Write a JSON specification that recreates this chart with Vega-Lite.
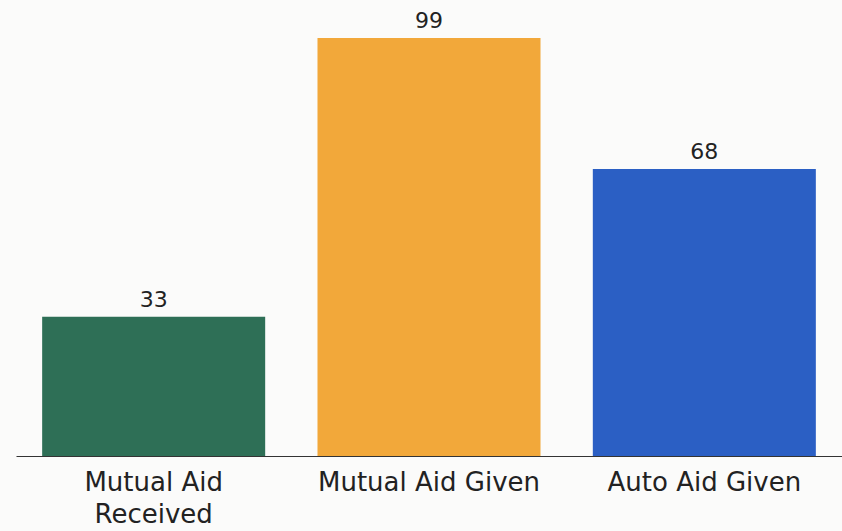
{
  "$schema": "https://vega.github.io/schema/vega-lite/v6.json",
  "width": 826,
  "height": 456,
  "autosize": {"type": "none"},
  "padding": {"left": 16, "top": 0, "right": 0, "bottom": 75},
  "background": "#fbfbfa",
  "data": {"values": [
    {"category": "Mutual Aid Received", "value": 33},
    {"category": "Mutual Aid Given", "value": 99},
    {"category": "Auto Aid Given", "value": 68}
  ]},
  "encoding": {
    "x": {"field": "category", "type": "nominal", "sort": null,
      "scale": {"paddingInner": 0.19, "paddingOuter": 0.095},
      "axis": {"title": null, "ticks": false, "labelAngle": 0, "domainColor": "#333333", "domainWidth": 1.2,
        "labelFont": "DejaVu Sans", "labelFontSize": 26, "labelColor": "#222222", "labelPadding": 13, "labelLineHeight": 32, "labelLimit": 0,
        "labelExpr": "datum.label == 'Mutual Aid Received' ? ['Mutual Aid', 'Received'] : datum.label"}},
    "y": {"field": "value", "type": "quantitative", "scale": {"domain": [0, 108], "nice": false}, "axis": null}
  },
  "layer": [
    {"mark": {"type": "bar"},
     "encoding": {"color": {"field": "category", "type": "nominal", "sort": null, "legend": null,
       "scale": {"domain": ["Mutual Aid Received", "Mutual Aid Given", "Auto Aid Given"], "range": ["#2e6f56", "#f2a83a", "#2b5fc4"]}}}},
    {"mark": {"type": "text", "baseline": "alphabetic", "dy": -10, "font": "DejaVu Sans", "fontSize": 22, "color": "#222222"},
     "encoding": {"text": {"field": "value", "type": "quantitative"}}}
  ],
  "config": {"view": {"stroke": null}}
}
